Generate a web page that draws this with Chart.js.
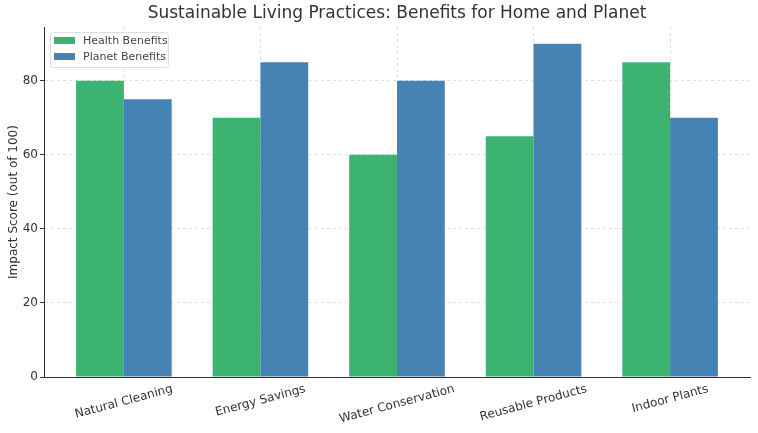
<!DOCTYPE html>
<html>
<head>
<meta charset="utf-8">
<script src="https://cdn.jsdelivr.net/npm/chart.js@4.4.1/dist/chart.umd.min.js"></script>
<style>
  html, body { margin: 0; padding: 0; background: #fff; }
  #wrap { width: 758px; height: 433px; }
</style>
</head>
<body>
<div id="wrap"><canvas id="chart" width="758" height="433"></canvas></div>
<script>
// chart data
const categories = ["Natural Cleaning", "Energy Savings", "Water Conservation", "Reusable Products", "Indoor Plants"];
const healthBenefits = [80, 70, 60, 65, 85];
const planetBenefits = [75, 85, 80, 90, 70];
const yTicks = [0, 20, 40, 60, 80];

const FONT = "'DejaVu Sans', sans-serif";
const TEXT = "#333";

function toPoints(vals) {
  return vals.map((v, i) => ({ x: i, y: v }));
}

// title, rotated category labels and in-plot legend
const extras = {
  id: "extras",
  afterDraw(chart) {
    const ctx = chart.ctx;
    const area = chart.chartArea;
    const xs = chart.scales.x;

    ctx.save();
    ctx.fillStyle = TEXT;
    ctx.font = "17px " + FONT;
    ctx.textAlign = "center";
    ctx.textBaseline = "middle";
    ctx.fillText("Sustainable Living Practices: Benefits for Home and Planet", (area.left + area.right) / 2, 14);

    // x labels, rotated 15 degrees, centred on the tick
    ctx.font = "12px " + FONT;
    const ang = 15 * Math.PI / 180;
    categories.forEach((c, i) => {
      const w = ctx.measureText(c).width;
      const x = xs.getPixelForValue(i);
      const cy = area.bottom + 6 + (w * Math.sin(ang) + 12 * Math.cos(ang)) / 2;
      ctx.save();
      ctx.translate(x, cy);
      ctx.rotate(-ang);
      ctx.fillText(c, 0, 0);
      ctx.restore();
    });

    // legend
    const lx = area.left + 6, ly = area.top + 5, lw = 118, lh = 35;
    ctx.globalAlpha = 0.8;
    ctx.fillStyle = "#fff";
    ctx.strokeStyle = "#d6d6d6";
    ctx.lineWidth = 1;
    ctx.beginPath();
    ctx.roundRect(lx + 0.5, ly + 0.5, lw, lh, 3);
    ctx.fill();
    ctx.stroke();
    ctx.globalAlpha = 1;
    ctx.font = "11px " + FONT;
    ctx.textAlign = "left";
    chart.data.datasets.forEach((ds, i) => {
      const y = ly + 9 + i * 16;
      ctx.fillStyle = ds.backgroundColor;
      ctx.fillRect(lx + 4, y - 4, 21, 7);
      ctx.fillStyle = "#444";
      ctx.fillText(ds.label, lx + 33, y);
    });
    ctx.restore();
  }
};

new Chart(document.getElementById("chart"), {
  type: "bar",
  data: {
    datasets: [
      { label: "Health Benefits", data: toPoints(healthBenefits), backgroundColor: "#3cb371" },
      { label: "Planet Benefits", data: toPoints(planetBenefits), backgroundColor: "#4682b4" }
    ]
  },
  options: {
    responsive: false,
    animation: false,
    layout: { padding: { top: 27, right: 8, left: 0, bottom: 0 } },
    categoryPercentage: 0.7,
    barPercentage: 1.0,
    plugins: {
      legend: { display: false },
      title: { display: false },
      tooltip: { enabled: false }
    },
    scales: {
      x: {
        type: "linear",
        offset: false,
        z: 1,
        min: -0.585,
        max: 4.585,
        afterBuildTicks: s => { s.ticks = categories.map((c, i) => ({ value: i })); },
        afterFit: s => { s.height = 56; },
        ticks: { display: false },
        grid: {
          offset: false,
          color: "rgba(0,0,0,0.12)",
          drawTicks: false
        },
        border: { display: true, color: "#333", width: 1, dash: [3, 3] }
      },
      y: {
        min: 0,
        max: 94.5,
        z: 1,
        afterBuildTicks: s => { s.ticks = yTicks.map(v => ({ value: v })); },
        afterFit: s => { s.width = 44; },
        ticks: { color: TEXT, font: { family: FONT, size: 12 }, padding: 2 },
        grid: {
          color: "rgba(0,0,0,0.12)",
          tickLength: 4,
          tickColor: "#333",
          tickBorderDash: []
        },
        border: { display: true, color: "#333", width: 1, dash: [3, 3] },
        title: {
          display: true,
          text: "Impact Score (out of 100)",
          color: TEXT,
          font: { family: FONT, size: 12 },
          padding: { top: 7, bottom: 0 }
        }
      }
    }
  },
  plugins: [extras]
});
</script>
</body>
</html>
